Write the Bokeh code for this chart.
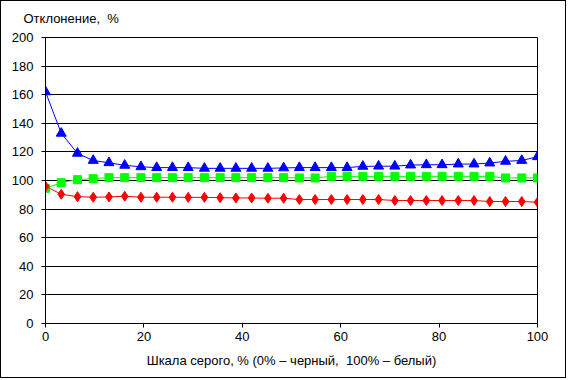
from bokeh.plotting import figure
from bokeh.embed import file_html
from bokeh.resources import INLINE
from bokeh.models import FixedTicker, Range1d

x_vals = [0, 3.2, 6.5, 9.7, 12.9, 16.1, 19.4, 22.6, 25.8, 29.0, 32.3, 35.5, 38.7, 41.9,
          45.2, 48.4, 51.6, 54.8, 58.1, 61.3, 64.5, 67.7, 71.0, 74.2, 77.4, 80.6, 83.9,
          87.1, 90.3, 93.5, 96.8, 100]
blue_vals = [162, 133, 119, 114, 112.4, 110.6, 109.6, 109, 109, 109, 108.5, 108.5, 108.5,
             108.5, 108.5, 108.8, 109, 109, 109, 109, 109.9, 110, 110, 110.8, 111, 111,
             111.5, 111.5, 112.2, 113.4, 114, 116.6]
green_vals = [94.5, 98.5, 100.6, 101.3, 102, 102, 102, 102, 102, 102, 102, 102, 102, 102,
              102, 102, 101.8, 101.8, 102.9, 102.9, 102.9, 102.9, 102.9, 102.9, 102.9,
              102.9, 102.9, 102.9, 102.9, 101.8, 101.8, 101.8]
red_vals = [96, 90.4, 88.7, 88.3, 88.5, 89, 88.3, 88.3, 88.3, 88.2, 88.2, 88, 87.8, 87.8,
            87.6, 87.6, 86.7, 86.7, 86.7, 86.7, 86.7, 86.7, 86, 86, 86, 86, 86, 86,
            85.3, 85.3, 85.3, 84.8]
x_ticks = [0, 20, 40, 60, 80, 100]
y_ticks = [0, 20, 40, 60, 80, 100, 120, 140, 160, 180, 200]

FONT = "Liberation Sans"
NB = "\u00a0"

p = figure(width=566, height=378, output_backend="svg", toolbar_location=None,
           x_range=Range1d(0, 100), y_range=Range1d(0, 200),
           min_border_left=44, min_border_right=30, min_border_top=35, min_border_bottom=56,
           title="Отклонение," + NB + NB + "%")
p.styles = {"border": "1px solid black"}

p.title.text_font = FONT
p.title.text_font_size = "13px"
p.title.text_font_style = "normal"
p.title.text_color = "black"
p.title.align = "left"
p.title.vertical_align = "top"
p.title.offset = -22
p.title.standoff = 19

p.outline_line_color = "black"
p.outline_line_width = 1

for ax in (p.xaxis[0], p.yaxis[0]):
    ax.axis_line_color = "black"
    ax.major_tick_line_color = "black"
    ax.minor_tick_line_color = None
    ax.major_tick_in = 0
    ax.major_tick_out = 4
    ax.major_label_text_font = FONT
    ax.major_label_text_font_size = "13px"
    ax.major_label_text_color = "black"
    ax.axis_label_text_font = FONT
    ax.axis_label_text_font_size = "13px"
    ax.axis_label_text_font_style = "normal"
    ax.axis_label_text_color = "black"

p.xaxis.ticker = FixedTicker(ticks=x_ticks)
p.yaxis.ticker = FixedTicker(ticks=y_ticks)
p.xaxis.axis_label = "Шкала" + NB + "серого, % (0% – черный," + NB + NB + "100% – белый)"
p.xaxis.axis_label_standoff = 9
p.xaxis.major_label_standoff = 4
p.yaxis.major_label_standoff = 8

p.xgrid.grid_line_color = None
p.ygrid.grid_line_color = "black"
p.ygrid.grid_line_width = 1

p.line(x_vals, blue_vals, line_color="#0000FF", line_width=1)
p.scatter(x_vals, blue_vals, marker="triangle", size=10, fill_color="#0000FF", line_color="#0000FF")
p.line(x_vals, green_vals, line_color="#00FF00", line_width=1)
p.scatter(x_vals, green_vals, marker="square", size=8, fill_color="#00FF00", line_color="#00FF00")
p.line(x_vals, red_vals, line_color="#FF0000", line_width=1)
p.scatter(x_vals, red_vals, marker="diamond", size=10, fill_color="#FF0000", line_color="#FF0000")

open("out.html", "w").write(file_html(p, INLINE))
